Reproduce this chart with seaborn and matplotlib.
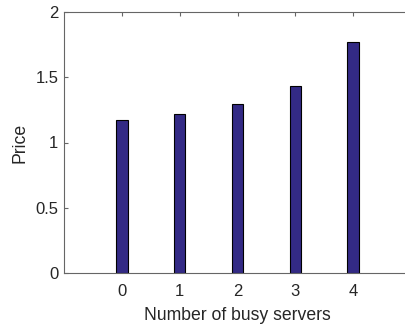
import numpy as np
import pandas as pd
import matplotlib
matplotlib.use('Agg')
import matplotlib.pyplot as plt
import seaborn as sns

busy_servers = [0, 1, 2, 3, 4]
price = [1.17, 1.218, 1.293, 1.433, 1.770]

df = pd.DataFrame({'servers': busy_servers, 'price': price})

sns.set_style('white')
plt.rcParams['font.family'] = ['Liberation Sans', 'DejaVu Sans']

fig = plt.figure(figsize=(4.05, 3.26), dpi=100)
ax = fig.add_axes([64 / 405, 53 / 326, 347 / 405, 261 / 326])

sns.barplot(data=df, x='servers', y='price', color='#332a85', saturation=1,
            width=0.2, edgecolor='black', linewidth=0.8, ax=ax)

ax.set_xlim(-1, 5)
ax.set_ylim(0, 2)
ax.set_yticks([0, 0.5, 1, 1.5, 2])
ax.set_yticklabels(['0', '0.5', '1', '1.5', '2'])
ax.set_xticks(range(len(busy_servers)))
ax.set_xticklabels([str(s) for s in busy_servers])

grey = '#262626'
for s in ax.spines.values():
    s.set_color('#666666')
    s.set_linewidth(0.8)
ax.spines['right'].set_visible(False)
ax.tick_params(direction='in', length=3, width=0.8, colors='#666666',
               labelcolor=grey, top=True, left=True, bottom=True, labelsize=12)
ax.tick_params(axis='x', pad=8)
ax.tick_params(axis='y', pad=4)

ax.set_xlabel('Number of busy servers', color=grey, fontsize=12.7, labelpad=6)
ax.set_ylabel('Price', color=grey, fontsize=12.7, labelpad=5)

fig.savefig('out.png', dpi=100)
